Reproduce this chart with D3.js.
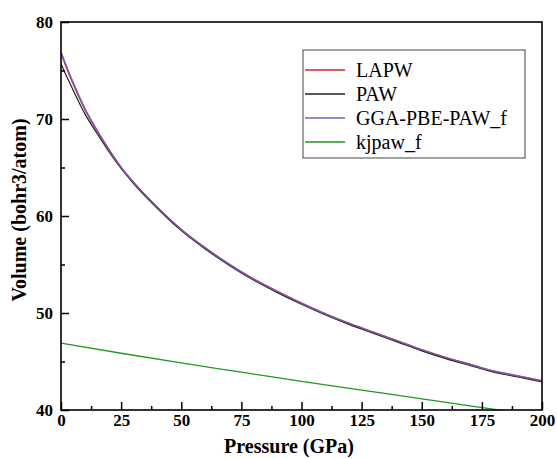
<!DOCTYPE html>
<html><head><meta charset="utf-8">
<script src="https://cdn.jsdelivr.net/npm/d3@7"></script>
<style>body{margin:0;background:#fff}svg{display:block}</style>
</head><body>
<script>
const pressure = [0,2.5,5,10,15,20,25,30,40,50,60,70,80,90,100,110,120,130,140,150,160,170,180,190,200];
const lapw  = [76.8,75.2,73.7,71.0,68.8,66.8,65.0,63.5,60.9,58.6,56.7,55.0,53.5,52.2,51.0,49.9,48.9,48.0,47.1,46.2,45.4,44.7,44.0,43.5,43.0];
const paw   = [75.7,74.3,73.0,70.5,68.5,66.6,64.9,63.4,60.8,58.5,56.6,54.9,53.4,52.1,50.9,49.8,48.8,47.9,47.0,46.1,45.3,44.6,43.9,43.4,42.9];
const gga   = [76.9,75.25,73.75,71.0,68.8,66.8,65.0,63.5,60.9,58.6,56.7,55.0,53.5,52.2,51.0,49.9,48.9,48.0,47.1,46.2,45.4,44.7,44.0,43.5,43.0];
const kjP   = [0,25,50,75,100,125,150,175,200];
const kjpaw = [46.9,45.85,44.85,43.9,42.95,42.05,41.15,40.25,39.4];
const seriesNames = ["LAPW","PAW","GGA-PBE-PAW_f","kjpaw_f"];
const seriesColors = ["#d42a2a","#222222","#6a64c0","#229922"];
const xTicks = [0,25,50,75,100,125,150,175,200];
const yTicks = [40,50,60,70,80];

const W=557,H=459, m={l:61,r:15,t:22,b:49};
const svg=d3.select("body").append("svg").attr("width",W).attr("height",H);
const x=d3.scaleLinear().domain([0,200]).range([m.l,W-m.r]);
const y=d3.scaleLinear().domain([40,80]).range([H-m.b,m.t]);
const font="'Liberation Serif','Times New Roman',serif";

svg.append("defs").append("clipPath").attr("id","clip").append("rect")
  .attr("x",m.l).attr("y",m.t).attr("width",x(200)-m.l).attr("height",y(40)-m.t);

const line=d3.line().curve(d3.curveMonotoneX);
const g=svg.append("g").attr("clip-path","url(#clip)");
g.append("path").attr("d",line(kjP.map((p,i)=>[x(p),y(kjpaw[i])]))).attr("fill","none").attr("stroke",seriesColors[3]).attr("stroke-width",1.3);
g.append("path").attr("d",line(pressure.map((p,i)=>[x(p),y(lapw[i])]))).attr("fill","none").attr("stroke",seriesColors[0]).attr("stroke-width",1.8);
g.append("path").attr("d",line(pressure.map((p,i)=>[x(p),y(paw[i])]))).attr("fill","none").attr("stroke",seriesColors[1]).attr("stroke-width",1.2);
g.append("path").attr("d",line(pressure.map((p,i)=>[x(p),y(gga[i])]))).attr("fill","none").attr("stroke",seriesColors[2]).attr("stroke-width",1.5).attr("stroke-opacity",0.85);

// frame
svg.append("rect").attr("x",m.l).attr("y",m.t).attr("width",x(200)-m.l).attr("height",y(40)-m.t)
  .attr("fill","none").attr("stroke","#000").attr("stroke-width",1.6);

// axes
const xa=svg.append("g").attr("transform",`translate(0,${y(40)})`)
  .call(d3.axisBottom(x).tickValues(xTicks).tickSize(-8).tickPadding(4).tickFormat(d3.format("d")));
const xm=svg.append("g").attr("transform",`translate(0,${y(40)})`)
  .call(d3.axisBottom(x).tickValues(d3.range(12.5,200,25)).tickSize(-4).tickFormat(""));
const ya=svg.append("g").attr("transform",`translate(${m.l},0)`)
  .call(d3.axisLeft(y).tickValues(yTicks).tickSize(-8).tickPadding(8).tickFormat(d3.format("d")));
const ym=svg.append("g").attr("transform",`translate(${m.l},0)`)
  .call(d3.axisLeft(y).tickValues([45,55,65,75]).tickSize(-4).tickFormat(""));
[xa,xm,ya,ym].forEach(a=>{a.select(".domain").remove();a.selectAll("line").attr("stroke","#000").attr("stroke-width",1.5);});
[xa,ya].forEach(a=>a.selectAll("text").attr("font-family",font).attr("font-weight","bold").attr("font-size",17).attr("fill","#000"));

svg.append("text").attr("x",289).attr("y",453).attr("text-anchor","middle")
  .attr("font-family",font).attr("font-weight","bold").attr("font-size",20).text("Pressure (GPa)");
svg.append("text").attr("transform","translate(26,210) rotate(-90)").attr("text-anchor","middle")
  .attr("font-family",font).attr("font-weight","bold").attr("font-size",20).text("Volume (bohr3/atom)");

// legend
const lg=svg.append("g");
lg.append("rect").attr("x",303).attr("y",50).attr("width",222).attr("height",108).attr("fill","#fff").attr("stroke","#444").attr("stroke-width",1);
seriesNames.forEach((n,i)=>{
  const yy=70+i*24;
  lg.append("line").attr("x1",305).attr("x2",345).attr("y1",yy).attr("y2",yy).attr("stroke",seriesColors[i]).attr("stroke-width",1.5);
  lg.append("text").attr("x",356).attr("y",yy).attr("dy","0.35em").attr("font-family",font).attr("font-size",20).text(n);
});
</script>
</body></html>
